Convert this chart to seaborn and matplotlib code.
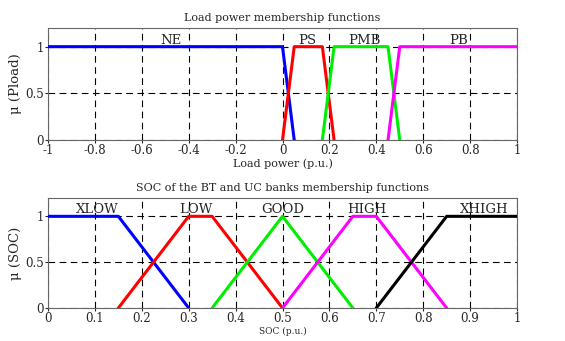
import matplotlib
matplotlib.use("Agg")
import matplotlib.pyplot as plt
import seaborn as sns
import pandas as pd

# load power membership functions (breakpoints)
load_names = ["NE", "PS", "PMB", "PB"]
load_x = [[-1, 0, 0.05], [0, 0.05, 0.17, 0.22], [0.17, 0.22, 0.45, 0.5], [0.45, 0.5, 1]]
load_y = [[1, 1, 0], [0, 1, 1, 0], [0, 1, 1, 0], [0, 1, 1]]
load_label_x = [-0.475, 0.105, 0.35, 0.75]
load_ticks = [-1, -0.8, -0.6, -0.4, -0.2, 0, 0.2, 0.4, 0.6, 0.8, 1]
load_ticklabels = ["-1", "-0.8", "-0.6", "-0.4", "-0.2", "0", "0.2", "0.4", "0.6", "0.8", "1"]

# SOC membership functions
soc_names = ["XLOW", "LOW", "GOOD", "HIGH", "XHIGH"]
soc_x = [[0, 0.15, 0.3], [0.15, 0.3, 0.35, 0.5], [0.35, 0.5, 0.65], [0.5, 0.65, 0.7, 0.85], [0.7, 0.85, 1]]
soc_y = [[1, 1, 0], [0, 1, 1, 0], [0, 1, 0], [0, 1, 1, 0], [0, 1, 1]]
soc_label_x = [0.106, 0.315, 0.5, 0.68, 0.93]
soc_ticks = [0, 0.1, 0.2, 0.3, 0.4, 0.5, 0.6, 0.7, 0.8, 0.9, 1]
soc_ticklabels = ["0", "0.1", "0.2", "0.3", "0.4", "0.5", "0.6", "0.7", "0.8", "0.9", "1"]

load_colors = ["#0000ff", "#ff0000", "#00ee00", "#ff00ff"]
soc_colors = ["#0000ff", "#ff0000", "#00ee00", "#ff00ff", "#000000"]

sns.set_style("ticks")
plt.rcParams["font.family"] = ["DejaVu Serif"]


def to_frame(names, xs, ys):
    rows = []
    for n, xx, yy in zip(names, xs, ys):
        for a, b in zip(xx, yy):
            rows.append({"set": n, "x": a, "y": b})
    return pd.DataFrame(rows)


def draw(ax, df, names, colors, label_x, ticks, ticklabels, title, xlabel, ylabel, xfs):
    for n, c in zip(names, colors):
        sub = df[df["set"] == n]
        sns.lineplot(data=sub, x="x", y="y", ax=ax, color=c, lw=2.2, sort=False,
                     estimator=None, legend=False, zorder=3)
    for n, lx in zip(names, label_x):
        ax.text(lx, 1.07, n, ha="center", va="center", fontsize=9.5, zorder=4)
    ax.set_xlim(ticks[0], ticks[-1])
    ax.set_ylim(0, 1.2)
    ax.set_xticks(ticks)
    ax.set_xticklabels(ticklabels)
    ax.set_yticks([0, 0.5, 1])
    ax.set_yticklabels(["0", "0.5", "1"])
    ax.grid(True, color="black", linestyle=(0, (6, 4)), lw=0.8, zorder=1)
    ax.tick_params(labelsize=8.5, length=2, pad=1)
    ax.set_title(title, fontsize=8, pad=5)
    ax.set_xlabel(xlabel, fontsize=xfs, labelpad=1)
    ax.set_ylabel(ylabel, fontsize=9.5, labelpad=2)
    for s in ax.spines.values():
        s.set_color("#666666")
        s.set_linewidth(0.8)


fig = plt.figure(figsize=(5.65, 3.41), dpi=100)
ax1 = fig.add_axes([48 / 565, 1 - 140 / 341, 469 / 565, 112 / 341])
ax2 = fig.add_axes([48 / 565, 1 - 308 / 341, 469 / 565, 110 / 341])

draw(ax1, to_frame(load_names, load_x, load_y), load_names, load_colors, load_label_x,
     load_ticks, load_ticklabels, "Load power membership functions", "Load power (p.u.)", "μ (Pload)", 8)
draw(ax2, to_frame(soc_names, soc_x, soc_y), soc_names, soc_colors, soc_label_x,
     soc_ticks, soc_ticklabels, "SOC of the BT and UC banks membership functions", "SOC (p.u.)", "μ (SOC)", 6.5)

fig.savefig("out.png", dpi=100)
